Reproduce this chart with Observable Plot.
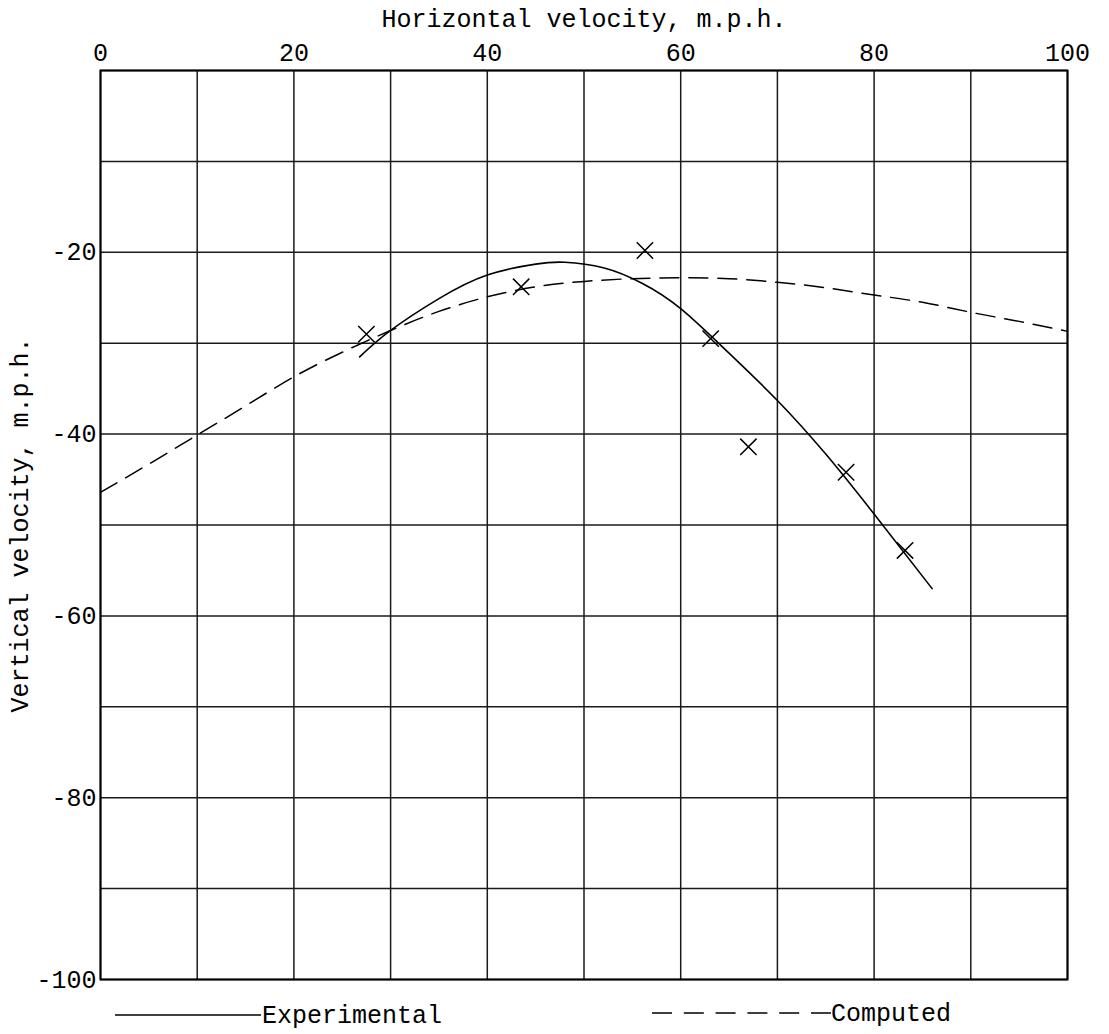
<!DOCTYPE html>
<html><head><meta charset="utf-8">
<script src="https://cdn.jsdelivr.net/npm/d3@7"></script>
<script src="https://cdn.jsdelivr.net/npm/@observablehq/plot@0.6"></script>
<style>
body{margin:0;background:#fff;font-family:"Liberation Mono",monospace;}
#chart svg{display:block;overflow:visible;}
#legend{display:block;overflow:visible;}
</style></head><body>
<div id="chart"></div>
<svg id="legend" width="1109" height="34"></svg>
<script>
// Axis ticks
const xTicks = [0, 20, 40, 60, 80, 100];
const yTicks = [-20, -40, -60, -80, -100];
const xGrid = [0, 10, 20, 30, 40, 50, 60, 70, 80, 90, 100];
const yGrid = [0, -10, -20, -30, -40, -50, -60, -70, -80, -90, -100];

// Experimental curve (solid)
const expX = [26.8, 30, 35, 40, 45, 48, 52, 56, 60, 65, 70, 75, 80, 86];
const expY = [-31.5, -28.6, -25.1, -22.5, -21.3, -21.1, -21.7, -23.4, -26.2, -31.1, -36.3, -42.2, -48.8, -57.0];

// Computed curve (dashed)
const compX = [0, 5, 10, 15, 20, 25, 30, 35, 40, 45, 50, 55, 60, 65, 70, 75, 80, 85, 90, 95, 100];
const compY = [-46.4, -43.3, -40.1, -36.9, -33.7, -31.0, -28.6, -26.5, -24.9, -23.8, -23.2, -22.9, -22.8, -22.9, -23.3, -23.9, -24.7, -25.5, -26.6, -27.6, -28.7];

// Observed points (x markers)
const ptX = [27.5, 43.5, 56.3, 63.1, 67.0, 77.1, 83.2];
const ptY = [-29.0, -23.8, -19.8, -29.5, -41.4, -44.2, -52.8];

const expData = expX.map((x, i) => ({x, y: expY[i]}));
const compData = compX.map((x, i) => ({x, y: compY[i]}));
const ptData = ptX.map((x, i) => ({x, y: ptY[i]}));

const FONT = '"Liberation Mono", "DejaVu Sans Mono", monospace';

const chart = Plot.plot({
  width: 1109,
  height: 1000,
  marginTop: 70,
  marginBottom: 21,
  marginLeft: 100,
  marginRight: 42,
  x: {domain: [0, 100]},
  y: {domain: [-100, 0]},
  style: {fontFamily: FONT, fontSize: "25px", color: "#000", background: "#fff"},
  marks: [
    Plot.ruleX(xGrid, {stroke: "#1a1a1a", strokeWidth: 1.5}),
    Plot.ruleY(yGrid, {stroke: "#1a1a1a", strokeWidth: 1.5}),
    Plot.frame({stroke: "#000", strokeWidth: 2}),
    Plot.axisX(xTicks, {
      anchor: "top", tickSize: 0, tickPadding: 10,
      tickFormat: d => String(d),
      label: "Horizontal velocity, m.p.h.", labelAnchor: "center", labelArrow: "none", labelOffset: 61
    }),
    Plot.axisY(yTicks, {
      anchor: "left", tickSize: 0, tickPadding: 4,
      tickFormat: d => String(d),
      label: "Vertical velocity, m.p.h.", labelAnchor: "center", labelArrow: "none", labelOffset: 90
    }),
    Plot.line(compData, {x: "x", y: "y", curve: "natural", stroke: "#000", strokeWidth: 1.5, strokeDasharray: "19,10"}),
    Plot.line(expData, {x: "x", y: "y", curve: "natural", stroke: "#000", strokeWidth: 1.6}),
    Plot.dot(ptData, {x: "x", y: "y", symbol: "times", r: 7.5, stroke: "#000", strokeWidth: 1.5})
  ]
});
document.getElementById("chart").appendChild(chart);

// Legend below the chart
const lg = d3.select("#legend");
lg.append("line").attr("x1", 115).attr("x2", 261).attr("y1", 15).attr("y2", 15)
  .attr("stroke", "#000").attr("stroke-width", 1.6);
lg.append("text").attr("x", 262).attr("y", 15).attr("dy", "0.32em")
  .attr("font-family", FONT).attr("font-size", 25).text("Experimental");
lg.append("line").attr("x1", 652).attr("x2", 831).attr("y1", 13).attr("y2", 13)
  .attr("stroke", "#000").attr("stroke-width", 1.6).attr("stroke-dasharray", "20,11.8");
lg.append("text").attr("x", 831).attr("y", 13).attr("dy", "0.32em")
  .attr("font-family", FONT).attr("font-size", 25).text("Computed");
</script>
</body></html>
